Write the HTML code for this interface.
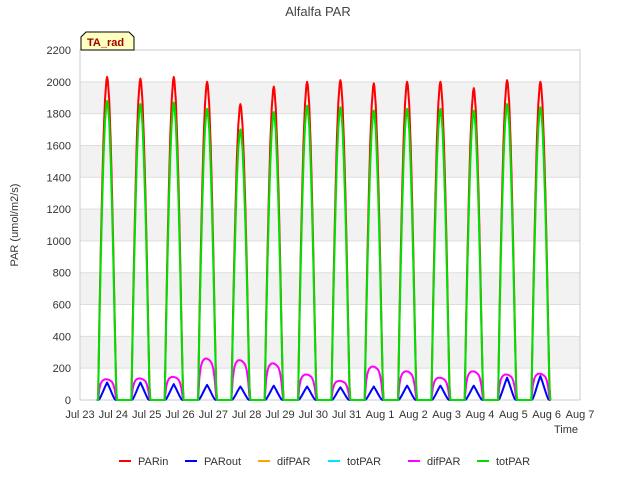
<!DOCTYPE html>
<html><head><meta charset="utf-8"><style>
body{margin:0;background:#fff;font-family:"Liberation Sans","DejaVu Sans",sans-serif}
</style></head><body>
<svg id="c" width="640" height="480" xmlns="http://www.w3.org/2000/svg"></svg>
<script>
const days=["Jul 23","Jul 24","Jul 25","Jul 26","Jul 27","Jul 28","Jul 29","Jul 30","Jul 31","Aug 1","Aug 2","Aug 3","Aug 4","Aug 5","Aug 6","Aug 7"];
const yTicks=[0,200,400,600,800,1000,1200,1400,1600,1800,2000,2200];
const parinPeak=[2030,2020,2030,2000,1860,1970,2000,2010,1990,2000,2000,1960,2010,2000];
const totPeak=[1880,1860,1870,1830,1700,1810,1850,1840,1820,1830,1830,1820,1860,1840];
const outPeak=[110,110,100,95,85,90,85,80,85,90,90,90,140,150];
const difPeak=[130,135,145,260,250,230,160,120,210,180,140,180,160,165];
const hours=[12,13,14,15,16,17,18,19,19.5,20,21,22,23,24,25,26,26.6,27];
const profMain=[0,0,0.25,0.47,0.66,0.82,0.93,0.99,1,0.99,0.93,0.81,0.66,0.47,0.25,0.05,0,0];
const profOut=[0,0,0.05,0.2,0.38,0.56,0.75,0.92,1,0.92,0.75,0.56,0.38,0.2,0.05,0,0,0];
const profDif=[0,0,0.55,0.8,0.92,0.97,1,1,1,0.99,0.97,0.93,0.88,0.75,0.5,0.1,0,0];
const X0=80,X1=580,Y0=400,Y1=50;
const sx=d=>X0+(X1-X0)*d/15;
const sy=v=>Y0-(Y0-Y1)*v/2200;
const svg=document.getElementById('c');
const NS="http://www.w3.org/2000/svg";
function mk(t,a,parent){const e=document.createElementNS(NS,t);for(const k in a)e.setAttribute(k,a[k]);(parent||svg).appendChild(e);return e;}
for(let i=0;i<yTicks.length-1;i++){
 if(i%2===1){const r=mk('rect',{x:X0,y:sy(yTicks[i+1]),width:X1-X0,height:sy(yTicks[i])-sy(yTicks[i+1]),fill:'#f2f2f2'});
 
 }
}
yTicks.forEach(v=>{
 const l=mk('line',{x1:X0,x2:X1,y1:sy(v),y2:sy(v),stroke:'#ddd','stroke-width':1});
 
 
 const t=mk('text',{x:X0-9,y:sy(v)+4,'text-anchor':'end','font-size':11,fill:'#333'});t.textContent=v;
 
 
});
days.forEach((d,i)=>{
 const t=mk('text',{x:sx(i),y:418,'text-anchor':'middle','font-size':11,fill:'#333'});t.textContent=d;
 
 
});
const fr=mk('rect',{x:X0,y:Y1,width:X1-X0,height:Y0-Y1,fill:'none',stroke:'#ccc'});


function series(peaks,prof,color,name,w){
 let pts=[];
 peaks.forEach((p,d)=>{hours.forEach((h,j)=>{pts.push(sx(d+h/24).toFixed(1)+','+sy(p*prof[j]).toFixed(1));});});
 const e=mk('polyline',{points:pts.join(' '),fill:'none',stroke:color,'stroke-width':w||1.5,'stroke-linejoin':'round'});
 
 
}
series(parinPeak,profMain,'#ff0000','parin-line',2);
series(outPeak,profOut,'#0000ff','parout-line',2);
series(difPeak,profDif,'#ffa500','difpar-orange-line',1.5);
series(totPeak,profMain,'#00e5ff','totpar-cyan-line',1.5);
series(difPeak,profDif,'#ff00ff','difpar-line',2);
series(totPeak,profMain,'#00e000','totpar-line',2);
</script>
<svg width="640" height="480" style="position:absolute;left:0;top:0" xmlns="http://www.w3.org/2000/svg">
<text x="318" y="16" text-anchor="middle" font-size="13" fill="#444">Alfalfa PAR</text>
<text x="18" y="225" text-anchor="middle" font-size="11" fill="#333" transform="rotate(-90 18 225)">PAR (umol/m2/s)</text>
<text x="578" y="433" text-anchor="end" font-size="11" fill="#333">Time</text>
<g>
<path d="M81,50 L81,37 L86,32 L129,32 L134,37 L134,50 Z" fill="#ffffc0" stroke="#000"/>
<text x="87" y="46" font-size="11" font-weight="bold" fill="#a00000">TA_rad</text>
</g>
<g font-size="11" fill="#333">
<g><line x1="119" x2="131" y1="461" y2="461" stroke="#ff0000" stroke-width="2"/><text x="138" y="465">PARin</text></g>
<g><line x1="185" x2="197" y1="461" y2="461" stroke="#0000ff" stroke-width="2"/><text x="204" y="465">PARout</text></g>
<g><line x1="258" x2="270" y1="461" y2="461" stroke="#ffa500" stroke-width="2"/><text x="277" y="465">difPAR</text></g>
<g><line x1="328" x2="340" y1="461" y2="461" stroke="#00e5ff" stroke-width="2"/><text x="347" y="465">totPAR</text></g>
<g><line x1="408" x2="420" y1="461" y2="461" stroke="#ff00ff" stroke-width="2"/><text x="427" y="465">difPAR</text></g>
<g><line x1="477" x2="489" y1="461" y2="461" stroke="#00e000" stroke-width="2"/><text x="496" y="465">totPAR</text></g>
</g>
</svg>
</body></html>
